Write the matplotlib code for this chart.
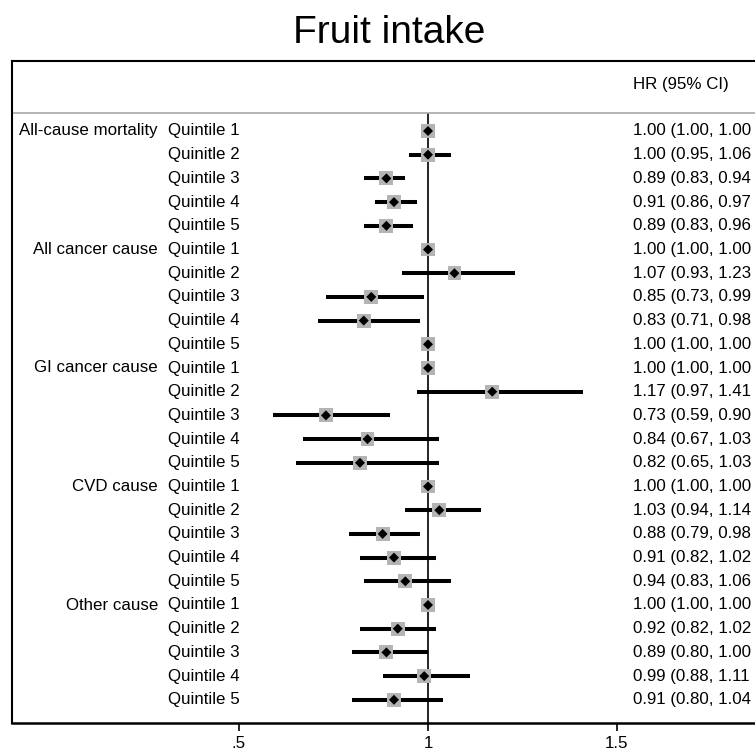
import matplotlib.pyplot as plt
import numpy as np

plt.rcParams['font.family'] = ['Liberation Sans', 'DejaVu Sans']

groups = ['All-cause mortality', 'All cancer cause', 'GI cancer cause', 'CVD cause', 'Other cause']
quintiles = ['Quintile 1', 'Quinitle 2', 'Quintile 3', 'Quintile 4', 'Quintile 5']

hr = [1.00, 1.00, 0.89, 0.91, 0.89,
      1.00, 1.07, 0.85, 0.83, 1.00,
      1.00, 1.17, 0.73, 0.84, 0.82,
      1.00, 1.03, 0.88, 0.91, 0.94,
      1.00, 0.92, 0.89, 0.99, 0.91]
lo = [1.00, 0.95, 0.83, 0.86, 0.83,
      1.00, 0.93, 0.73, 0.71, 1.00,
      1.00, 0.97, 0.59, 0.67, 0.65,
      1.00, 0.94, 0.79, 0.82, 0.83,
      1.00, 0.82, 0.80, 0.88, 0.80]
hi = [1.00, 1.06, 0.94, 0.97, 0.96,
      1.00, 1.23, 0.99, 0.98, 1.00,
      1.00, 1.41, 0.90, 1.03, 1.03,
      1.00, 1.14, 0.98, 1.02, 1.06,
      1.00, 1.02, 1.00, 1.11, 1.04]

xticks = [0.5, 1, 1.5]
xticklabels = ['.5', '1', '1.5']

W = 755
fig = plt.figure(figsize=(7.55, 7.55), dpi=100)
ax = fig.add_axes([12 / W, (W - 723) / W, 1 - 12 / W, (723 - 61) / W])

px_per_unit = 378.0
x0 = 1 + (12 - 428) / px_per_unit
x1 = 1 + (755 - 428) / px_per_unit
ax.set_xlim(x0, x1)

row_h = 23.7
def py(p):
    return (p - 131) / row_h
def px(p):
    return 1 + (p - 428) / px_per_unit

ax.set_ylim(py(723), py(61))

n = len(hr)
y = np.arange(n)

# reference line
ax.vlines(1, py(113), py(723), color='black', lw=1.2, zorder=2)

# CIs
for yi, l, h in zip(y, lo, hi):
    if h > l:
        ax.hlines(yi, l, h, color='black', lw=2.9, zorder=3)

ax.scatter(hr, y, marker='s', s=100, color='#b4b4b4', edgecolors='none', zorder=4)
ax.scatter(hr, y, marker='D', s=26, color='black', edgecolors='none', zorder=5)

# labels (closing bracket falls outside the frame in the original)
fs = 12.2
for i in range(n):
    g, q = divmod(i, 5)
    if q == 0:
        ax.text(px(158), i, groups[g], ha='right', va='center', fontsize=fs)
    ax.text(px(168), i, quintiles[q], ha='left', va='center', fontsize=fs)
    ax.text(px(633), i, f'{hr[i]:.2f} ({lo[i]:.2f}, {hi[i]:.2f}',
            ha='left', va='center', fontsize=fs)

ax.text(px(633), py(84), 'HR (95% CI)', ha='left', va='center', fontsize=fs)
ax.axhline(py(113), color='#a8a8a8', lw=1.2)

ax.set_xticks(xticks)
ax.set_xticklabels(xticklabels, fontsize=fs)
ax.set_yticks([])
ax.tick_params(axis='x', direction='out', length=6, width=1.2, pad=3)

ax.spines['right'].set_visible(False)
ax.spines['bottom'].set_linewidth(1.8)
ax.spines['left'].set_linewidth(1.5)
ax.spines['top'].set_linewidth(1.5)

fig.text(389 / W, 1 - 33 / W, 'Fruit intake', ha='center', va='center', fontsize=28)

fig.savefig('out.png', dpi=100)
